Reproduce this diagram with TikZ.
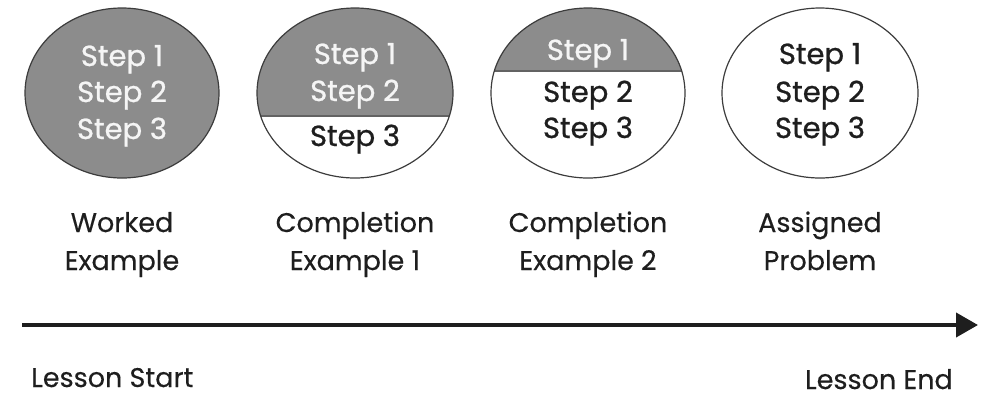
\documentclass[tikz,border=0pt]{standalone}
\usepackage{fontspec}
\setmainfont{Poppins}
\newfontfamily\stepfont{Poppins}[FakeBold=0.9]
\newfontfamily\capfont{Poppins}[FakeBold=0.3]
\usetikzlibrary{arrows.meta}
\definecolor{fillgray}{HTML}{8C8C8C}
\definecolor{txtdark}{HTML}{1E1E1E}
\definecolor{txtlight}{HTML}{F5F5F5}
\definecolor{rimgray}{HTML}{3C3C3C}
\begin{document}
\begin{tikzpicture}[x=1pt,y=-1pt,
  stepbox/.style={anchor=base,inner sep=0pt,font=\stepfont\fontsize{29}{32}\selectfont},
  lighttext/.style={stepbox,text=txtlight},
  darktext/.style={stepbox,text=txtdark},
  caption/.style={anchor=base,inner sep=0pt,text=txtdark,font=\capfont\fontsize{27}{30}\selectfont},
  rim/.style={draw=rimgray,line width=1.2pt},
  divider/.style={draw=rimgray!80,line width=1.8pt}]
\useasboundingbox (0,0) rectangle (990,397);
% ellipse 1
\fill[fillgray] (122,93) ellipse [x radius=97,y radius=85];
\draw[rim] (122,93) ellipse [x radius=97,y radius=85];
% ellipse 2
\begin{scope}
\clip (355,93) ellipse [x radius=98,y radius=85];
\fill[fillgray] (250,0) rectangle (460,116);
\draw[divider] (250,116) -- (460,116);
\end{scope}
\draw[rim] (355,93) ellipse [x radius=98,y radius=85];
% ellipse 3
\begin{scope}
\clip (588,93) ellipse [x radius=97,y radius=85];
\fill[fillgray] (480,0) rectangle (700,71);
\draw[divider] (480,71) -- (700,71);
\end{scope}
\draw[rim] (588,93) ellipse [x radius=97,y radius=85];
% ellipse 4
\draw[rim] (820,93) ellipse [x radius=98,y radius=85];
% texts
\node[lighttext] (a1) at (122,66) {Step 1};
\node[lighttext] (a2) at (122,102) {Step 2};
\node[lighttext] (a3) at (122,139) {Step 3};
\node[lighttext] (b1) at (355,64) {Step 1};
\node[lighttext] (b2) at (355,101) {Step 2};
\node[darktext] (b3) at (355,146) {Step 3};
\node[lighttext] (c1) at (588,60) {Step 1};
\node[darktext] (c2) at (588,102) {Step 2};
\node[darktext] (c3) at (588,138) {Step 3};
\node[darktext] (d1) at (820,64) {Step 1};
\node[darktext] (d2) at (820,102) {Step 2};
\node[darktext] (d3) at (820,138) {Step 3};
% captions
\node[caption] (w1) at (122,232) {Worked};
\node[caption] (w2) at (122,270) {Example};
\node[caption] (x1) at (355,232) {Completion};
\node[caption] (x2) at (355,270) {Example 1};
\node[caption] (y1) at (588,232) {Completion};
\node[caption] (y2) at (588,270) {Example 2};
\node[caption] (z1) at (820,232) {Assigned};
\node[caption] (z2) at (820,270) {Problem};
% timeline
\coordinate (tstart) at (22,325);
\coordinate (tend) at (978,325);
\draw[draw=txtdark,line width=4pt,-{Triangle[length=22pt,width=24pt]}] (tstart) -- (tend);
\node[caption,anchor=base west] (ls) at (31,387) {Lesson Start};
\node[caption,anchor=base east] (le) at (953,389) {Lesson End};
\end{tikzpicture}
\end{document}
